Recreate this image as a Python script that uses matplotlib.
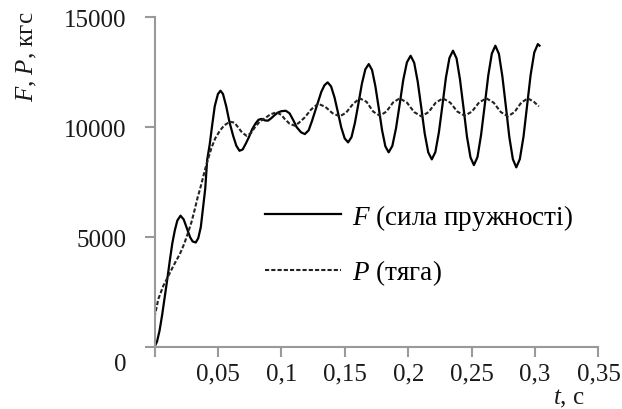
import matplotlib
matplotlib.use('Agg')
import matplotlib.pyplot as plt
import matplotlib.transforms as mtransforms

plt.rcParams['font.family'] = ['Liberation Serif', 'DejaVu Serif']
plt.rcParams['mathtext.fontset'] = 'custom'
plt.rcParams['mathtext.rm'] = 'Liberation Serif'
plt.rcParams['mathtext.it'] = 'Liberation Serif:italic'

# F (сила пружності)
t_F = [0.000, 0.002, 0.004, 0.006, 0.008, 0.010, 0.012, 0.014, 0.016, 0.018,
       0.0205, 0.023, 0.0255, 0.028, 0.030, 0.0325, 0.0345, 0.0365, 0.038, 0.040,
       0.0415, 0.0435, 0.0455, 0.0475, 0.050, 0.052, 0.054, 0.0565, 0.059, 0.062,
       0.0645, 0.067, 0.0695, 0.072, 0.0745, 0.077, 0.0795, 0.082, 0.0845, 0.087,
       0.0895, 0.092, 0.0945, 0.097, 0.100, 0.1035, 0.1065, 0.1095, 0.112, 0.1155,
       0.1185, 0.1215, 0.124, 0.1265, 0.129, 0.1315, 0.134, 0.1365,
       0.1392, 0.1419, 0.1446, 0.1472, 0.1499, 0.1526,
       0.1553, 0.1580, 0.1608, 0.1635, 0.1662, 0.1689,
       0.1715, 0.1741, 0.1768, 0.1794, 0.1820, 0.1846,
       0.1875, 0.1904, 0.1933, 0.1961, 0.1990, 0.2019,
       0.2047, 0.2075, 0.2103, 0.2130, 0.2158, 0.2186,
       0.2214, 0.2242, 0.2270, 0.2297, 0.2325, 0.2353,
       0.2381, 0.2408, 0.2436, 0.2463, 0.2491, 0.2518,
       0.2546, 0.2574, 0.2603, 0.2631, 0.2659, 0.2687,
       0.2715, 0.2742, 0.2770, 0.2797, 0.2825, 0.2852,
       0.2880, 0.2909, 0.2937, 0.2965, 0.2994, 0.3022, 0.3035]
F = [0, 250, 750, 1450, 2250, 3050, 3900, 4700, 5300, 5750,
     5970, 5800, 5400, 5000, 4800, 4750, 4950, 5450, 6200, 7200,
     8500, 9200, 10100, 10950, 11500, 11650, 11500, 10950, 10250, 9600,
     9150, 8920, 8980, 9250, 9550, 9900, 10150, 10330, 10370, 10300,
     10290, 10400, 10530, 10650, 10720, 10740, 10620, 10300, 10000, 9760,
     9680, 9850, 10250, 10700, 11150, 11600, 11900, 12030,
     11847, 11348, 10666, 9984, 9485, 9302,
     9541, 10192, 11082, 11972, 12623, 12862,
     12593, 11859, 10856, 9853, 9119, 8850,
     9144, 9948, 11045, 12143, 12946, 13240,
     12924, 12063, 10885, 9708, 8846, 8530,
     8861, 9765, 11000, 12235, 13139, 13470,
     13122, 12170, 10870, 9570, 8618, 8270,
     8634, 9627, 10984, 12341, 13334, 13697,
     13326, 12315, 10932, 9550, 8538, 8167,
     8543, 9568, 10968, 12368, 13393, 13770, 13700]

# P (тяга)
t_P = [0.000, 0.003, 0.007, 0.011, 0.015, 0.020, 0.0235, 0.0265, 0.029, 0.0315,
       0.034, 0.036, 0.038, 0.040, 0.0425, 0.045, 0.048, 0.0515, 0.055, 0.0595,
       0.063, 0.066, 0.069, 0.0726, 0.076, 0.0791, 0.083, 0.087, 0.0915, 0.0962,
       0.100, 0.1027, 0.1065, 0.1106, 0.114, 0.1185, 0.1235, 0.129, 0.1347, 0.1403,
       0.146, 0.151, 0.1565, 0.1618, 0.1671, 0.1724, 0.1776, 0.1828, 0.1881, 0.1933,
       0.1990, 0.2047, 0.2104, 0.2161, 0.2217, 0.2274, 0.2331, 0.2388, 0.2445, 0.2502,
       0.2559, 0.2616, 0.2673, 0.2730, 0.2786, 0.2838, 0.2891, 0.2943, 0.2990, 0.303]
P = [1350, 2180, 2790, 3240, 3700, 4230, 4700, 5210, 5650, 6200,
     6800, 7200, 7650, 8100, 8600, 9070, 9500, 9830, 10080, 10240,
     10200, 9980, 9750, 9600, 9720, 9985, 10250, 10400, 10580, 10667,
     10550, 10363, 10150, 10060, 10200, 10440, 10800, 11060, 10916, 10629,
     10485, 10650, 11050, 11303, 11150, 10700, 10515, 10700, 11120, 11303,
     11110, 10680, 10485, 10680, 11110, 11303, 11110, 10700, 10515, 10700,
     11120, 11303, 11110, 10680, 10485, 10680, 11110, 11303, 11150, 10940]

x_ticks = [0.05, 0.1, 0.15, 0.2, 0.25, 0.3, 0.35]
x_labels = ['0,05', '0,1', '0,15', '0,2', '0,25', '0,3', '0,35']
y_ticks = [0, 5000, 10000, 15000]

fig = plt.figure(figsize=(6.22, 4.10), dpi=100)
ax = fig.add_axes([0.2484, 0.1512, 0.7138, 0.8048])

ax.plot(t_F, F, color='black', lw=1.6, label='$F$ (сила пружності)')
ax.plot(t_P, P, color='#222222', lw=1.5, ls=(0, (2, 1)), label='$P$ (тяга)')

ax.set_xlim(0, 0.35)
ax.set_ylim(0, 15000)
ax.set_xticks([0] + x_ticks)
ax.set_xticklabels([''] + x_labels)
ax.set_yticks(y_ticks)
ax.set_yticklabels([str(v) for v in y_ticks])

for s in ['top', 'right']:
    ax.spines[s].set_visible(False)
for s in ['left', 'bottom']:
    ax.spines[s].set_color('#999999')
    ax.spines[s].set_linewidth(1.5)
ax.tick_params(axis='both', colors='#999999', width=1.5, length=7,
               labelcolor='#1a1a1a', labelsize=18)
ax.tick_params(axis='y', pad=13)
ax.tick_params(axis='x', pad=4)

# the "0" of the y axis sits a bit lower in the original
zero_lbl = ax.get_yticklabels()[0]
zero_lbl.set_transform(zero_lbl.get_transform() +
                       mtransforms.ScaledTranslation(0, -14 / 100, fig.dpi_scale_trans))

fig.text(27 / 622, 1 - 12 / 410, '$F$, $P$, кгс', fontsize=18, rotation=90,
         ha='center', va='top', color='#1a1a1a')
fig.text(569 / 622, 1 - 399 / 410, '$t$, с', fontsize=18,
         ha='center', va='center', color='#1a1a1a')

ax.legend(loc='center left', bbox_to_anchor=(0.249, 0.310), frameon=False,
          fontsize=19.5, handlelength=2.8, handletextpad=0.4, labelspacing=0.95,
          borderpad=0, borderaxespad=0)

fig.savefig('out.png', dpi=100)
